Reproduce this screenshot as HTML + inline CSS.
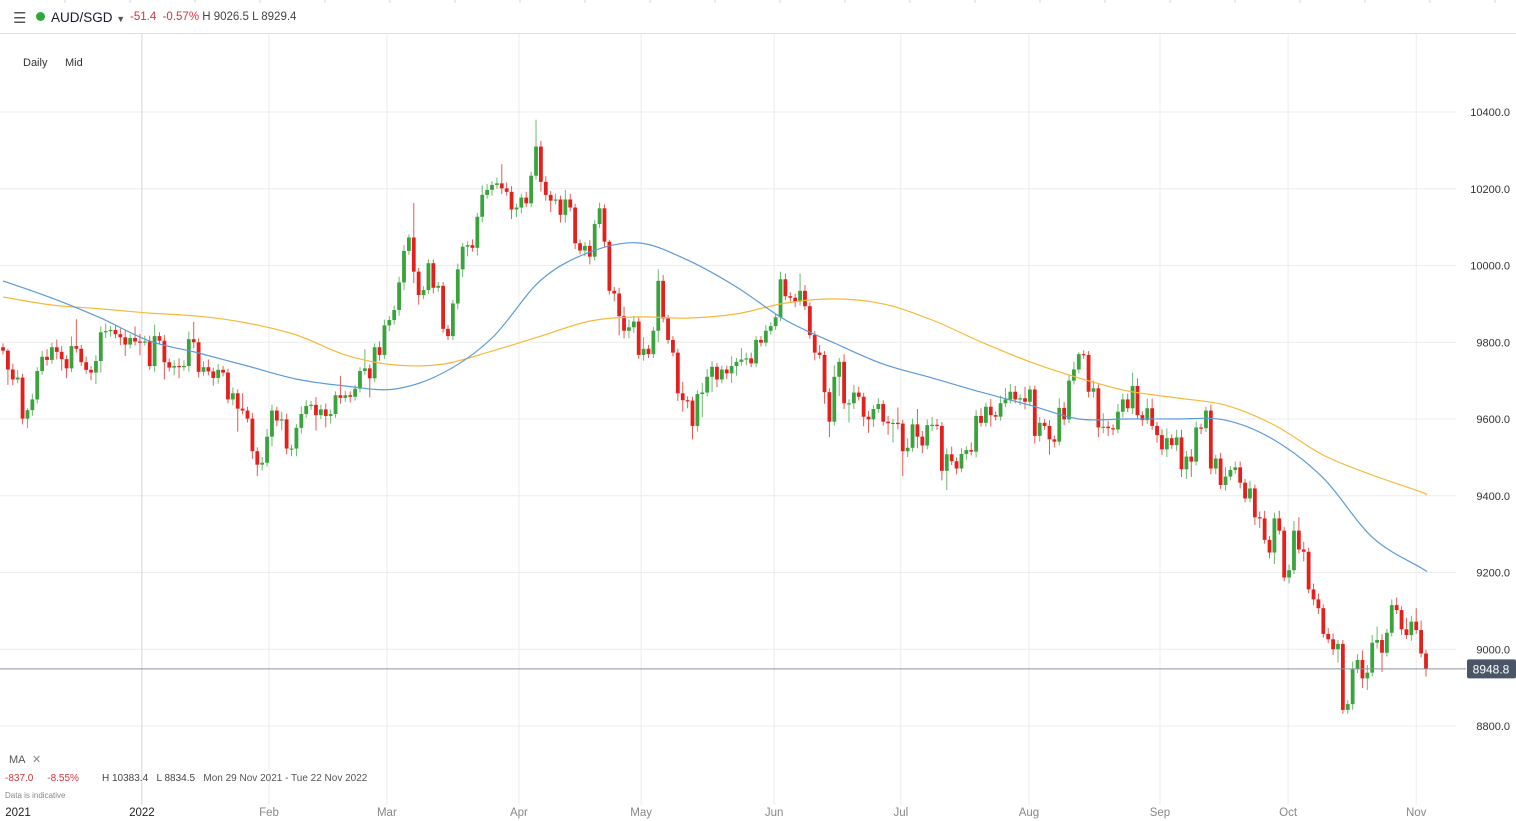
<!DOCTYPE html>
<html><head><meta charset="utf-8">
<style>
html,body{margin:0;padding:0;background:#fff;width:1516px;height:821px;overflow:hidden;font-family:"Liberation Sans",sans-serif;}
#top{position:absolute;left:0;top:0;width:1516px;height:33px;border-bottom:1px solid #e0e0e0;}
.t{position:absolute;white-space:nowrap;}
</style></head><body>
<div id="top">
  <div class="t" style="left:13px;top:9px;font-size:15px;color:#555;">☰</div>
  <div class="t" style="left:36px;top:12px;width:9px;height:9px;border-radius:50%;background:#2fa83a;"></div>
  <div class="t" style="left:51px;top:10px;font-size:13.5px;color:#1a1a2e;">AUD/SGD <span style="font-size:9px;color:#555">▼</span></div>
  <div class="t" style="left:130px;top:11px;font-size:11.5px;color:#d0343c;">-51.4 &nbsp;-0.57% <span style="color:#444">H 9026.5 L 8929.4</span></div>
</div>
<div class="t" style="left:23px;top:57px;font-size:11px;color:#333;">Daily</div>
<div class="t" style="left:65px;top:57px;font-size:11px;color:#333;">Mid</div>
<svg id="chart" width="1516" height="821" style="position:absolute;left:0;top:0;"></svg>
<div class="t" style="left:9px;top:753px;font-size:11px;color:#555;">MA <span style="color:#888;margin-left:4px">✕</span></div>
<div class="t" style="left:5px;top:773px;font-size:10px;color:#d0343c;">-837.0 &nbsp;&nbsp;&nbsp;&nbsp;-8.55%</div>
<div class="t" style="left:102px;top:773px;font-size:10px;color:#444;">H 10383.4 &nbsp;&nbsp;L 8834.5 &nbsp;&nbsp;<span style="color:#555">Mon 29 Nov 2021 - Tue 22 Nov 2022</span></div>
<div class="t" style="left:5px;top:791px;font-size:8px;color:#888;">Data is indicative</div>
<script>
const yTicks=[10400,10200,10000,9800,9600,9400,9200,9000,8800];
const monthLabels=["2021","2022","Feb","Mar","Apr","May","Jun","Jul","Aug","Sep","Oct","Nov"];
const monthCandle=[null,29.4,55.4,79.5,106.5,131.5,158.7,184.6,210.8,237.6,263.8,290];
const firstOpen=9787;
const closes=[9778,9729,9703,9708,9601,9623,9651,9725,9762,9754,
9787,9775,9756,9732,9790,9783,9748,9728,9721,9751,
9826,9829,9832,9821,9813,9794,9811,9802,9801,9802,
9738,9816,9804,9748,9734,9738,9736,9738,9808,9800,
9723,9735,9724,9707,9728,9721,9651,9667,9627,9622,
9601,9516,9481,9486,9554,9622,9596,9599,9523,9523,
9577,9613,9634,9637,9610,9625,9608,9613,9662,9655,
9662,9658,9679,9725,9732,9706,9787,9767,9844,9858,
9884,9956,10038,10073,9984,9923,9936,10006,9942,9947,
9835,9816,9901,9990,10049,10053,10046,10127,10184,10197,
10210,10214,10201,10192,10146,10151,10177,10162,10234,10310,
10218,10184,10169,10172,10132,10172,10151,10058,10039,10051,
10023,10108,10149,10062,9934,9927,9868,9830,9839,9854,
9767,9783,9769,9830,9960,9862,9806,9773,9667,9649,
9648,9582,9665,9669,9710,9736,9703,9729,9719,9738,
9749,9755,9758,9745,9806,9799,9830,9842,9865,9964,
9920,9916,9906,9934,9894,9819,9773,9767,9670,9593,
9710,9749,9641,9641,9669,9658,9606,9599,9626,9639,
9593,9589,9590,9588,9516,9525,9586,9554,9531,9584,
9585,9582,9465,9508,9490,9471,9509,9519,9515,9608,
9590,9632,9610,9606,9641,9651,9671,9651,9654,9645,
9677,9556,9590,9582,9547,9541,9629,9599,9700,9729,
9769,9767,9671,9680,9578,9580,9576,9573,9619,9651,
9628,9686,9610,9597,9628,9582,9558,9521,9550,9532,
9552,9469,9502,9489,9578,9576,9622,9471,9497,9428,
9450,9467,9474,9434,9393,9419,9344,9341,9285,9252,
9341,9309,9187,9206,9309,9260,9254,9156,9130,9107,
9040,9026,9000,9014,8842,8857,8948,8972,8924,8939,
9017,9024,8991,9043,9115,9102,9052,9037,9072,9050,
8989,8948.8];
const wickUp=[10,5,15,20,10,5,15,10,15,20,12,20,15,10,25,70,10,15,10,15,15,20,10,12,15,20,10,30,20,15,15,30,10,15,10,15,20,15,20,45,10,15,20,10,15,10,10,15,10,40,10,15,10,15,20,15,10,20,15,10,10,20,15,10,20,12,15,12,10,50,12,10,10,10,50,10,10,15,15,10,12,15,15,8,90,10,10,10,10,10,10,10,10,15,10,10,15,10,25,15,10,15,50,15,15,10,10,15,10,70,15,15,10,15,10,25,15,10,10,10,15,10,15,10,5,10,15,25,20,15,10,30,10,10,30,15,10,10,10,30,10,10,10,25,20,15,10,10,10,25,10,30,15,15,10,10,15,10,10,20,15,10,10,45,15,10,10,20,10,10,30,10,20,10,20,15,10,15,10,15,10,15,10,40,10,25,15,40,15,15,20,15,10,15,20,10,15,10,20,15,20,10,20,10,20,30,20,15,10,30,10,10,15,10,15,10,25,15,15,20,5,10,10,20,10,35,15,10,20,15,15,35,20,10,25,25,10,15,25,10,20,20,15,20,15,10,10,15,10,15,25,10,15,15,10,20,10,15,20,10,15,20,10,15,25,35,20,10,15,15,10,15,15,10,10,10,20,15,25,20,20,35,15,10,15,20,10,30,15,35,25,10];
const wickDown=[10,40,15,10,15,25,15,10,10,15,10,20,30,25,10,10,10,10,20,30,30,15,15,10,20,30,10,10,35,10,10,15,10,45,10,20,30,10,15,15,15,10,10,20,15,10,10,15,60,10,10,20,30,15,10,25,15,25,15,20,20,15,10,10,40,10,30,20,10,15,10,15,10,10,10,50,10,15,10,15,12,15,20,10,30,25,10,10,15,10,10,10,10,15,20,25,10,20,15,10,15,10,15,10,25,20,15,10,10,10,25,15,30,10,20,20,10,15,10,15,20,10,10,15,10,20,50,20,20,15,10,15,10,10,30,10,10,10,20,30,20,35,15,60,10,40,20,10,15,25,25,10,15,10,10,10,10,10,10,10,10,10,15,10,10,10,20,10,30,40,10,50,15,50,15,10,25,35,20,10,10,30,50,15,65,15,10,30,20,10,15,10,25,50,10,15,10,15,10,15,10,10,30,10,10,10,10,10,15,20,10,20,15,10,40,15,10,15,10,10,10,10,15,15,25,15,20,15,10,15,10,15,10,15,10,10,20,15,20,10,15,20,25,40,10,15,10,15,15,10,15,10,10,15,10,10,20,25,10,15,30,10,10,15,10,10,25,10,15,15,10,10,15,35,10,10,15,10,25,30,10,15,50,10,10,10,15,10,15,10,10,20];
const maIndex=[1,11,21,31,41,51,61,71,81,91,101,111,121,131,141,151,161,171,181,191,201,211,221,231,241,251,261,271,281,291,292];
const maFast=[9960,9915,9863,9803,9772,9738,9704,9686,9678,9720,9811,9962,10035,10059,10014,9944,9858,9798,9743,9707,9670,9636,9600,9600,9600,9597,9545,9446,9292,9212,9204];
const maSlow=[9918,9897,9887,9876,9868,9850,9819,9767,9741,9743,9777,9816,9855,9866,9863,9874,9902,9913,9900,9858,9801,9749,9707,9673,9655,9636,9584,9506,9454,9410,9402];
const lastPrice=8948.8;

const svg=document.getElementById('chart');
const NS='http://www.w3.org/2000/svg';
const N=closes.length;
function yScale(p){return 112+(10400-p)*0.38375;}
function xScale(i){return 1426-(N-i)*4.89;}
function mk(tag,attrs,parent){const e=document.createElementNS(NS,tag);for(const k in attrs)e.setAttribute(k,attrs[k]);(parent||svg).appendChild(e);return e;}

for(let x=65;x<1516;x+=65){const e=mk('line',{x1:x,x2:x,y1:0,y2:3,stroke:'#cfd6dc','stroke-width':1});

}

yTicks.forEach(v=>{const y=yScale(v);
const g=mk('line',{x1:0,x2:1456,y1:y,y2:y,stroke:'#ececec','stroke-width':1});


const t=mk('text',{x:1510,y:y+4,'text-anchor':'end','font-size':11,fill:'#333','font-family':'Liberation Sans, sans-serif'});
t.textContent=v.toFixed(1);

});

monthLabels.forEach((m,k)=>{
let x=monthCandle[k]===null?18:xScale(monthCandle[k]);
if(monthCandle[k]!==null){const g=mk('line',{x1:x,x2:x,y1:34,y2:805,stroke:k===1?'#d6d6d6':'#ececec','stroke-width':1});

}
const t=mk('text',{x:x,y:816,'text-anchor':'middle','font-size':11.5,fill:(k<2?'#222':'#888'),'font-family':'Liberation Sans, sans-serif'});
t.textContent=m;

});

let prev=firstOpen;
for(let i=0;i<N;i++){
const o=prev,c=closes[i];prev=c;
const up=c>=o;const col=up?'#3aa33d':'#e2211c';
const x=xScale(i+1);
const hi=Math.max(o,c)+wickUp[i],lo=Math.min(o,c)-wickDown[i];
const w=mk('line',{x1:x,x2:x,y1:yScale(hi),y2:yScale(lo),stroke:col,'stroke-width':1,opacity:0.75});


const yt=yScale(Math.max(o,c)),yb=yScale(Math.min(o,c));
const b=mk('rect',{x:x-1.9,y:yt,width:3.8,height:Math.max(1.2,yb-yt),fill:col});


}

function maPath(arr,color,name){
const P=arr.map((v,k)=>[xScale(maIndex[k]),yScale(v)]);
let d='M'+P[0][0].toFixed(1)+','+P[0][1].toFixed(1);
for(let k=0;k<P.length-1;k++){
const p0=P[Math.max(0,k-1)],p1=P[k],p2=P[k+1],p3=P[Math.min(P.length-1,k+2)];
const c1x=p1[0]+(p2[0]-p0[0])/6,c1y=p1[1]+(p2[1]-p0[1])/6;
const c2x=p2[0]-(p3[0]-p1[0])/6,c2y=p2[1]-(p3[1]-p1[1])/6;
d+=' C'+c1x.toFixed(1)+','+c1y.toFixed(1)+' '+c2x.toFixed(1)+','+c2y.toFixed(1)+' '+p2[0].toFixed(1)+','+p2[1].toFixed(1);}
const p=mk('path',{d:d,fill:'none',stroke:color,'stroke-width':1.2});

}
maPath(maSlow,'#f6b93b','moving-average-slow');
maPath(maFast,'#5b9bd5','moving-average-fast');

const ly=yScale(lastPrice);
const pl=mk('line',{x1:0,x2:1466,y1:ly,y2:ly,stroke:'#8a949e','stroke-width':1});


const lb=mk('rect',{x:1467,y:ly-9.5,width:49,height:19,rx:2,fill:'#4a5568'});


const lt=mk('text',{x:1491,y:ly+4.5,'text-anchor':'middle','font-size':12,fill:'#fff','font-family':'Liberation Sans, sans-serif'});
lt.textContent=lastPrice.toFixed(1);


</script>
</body></html>
